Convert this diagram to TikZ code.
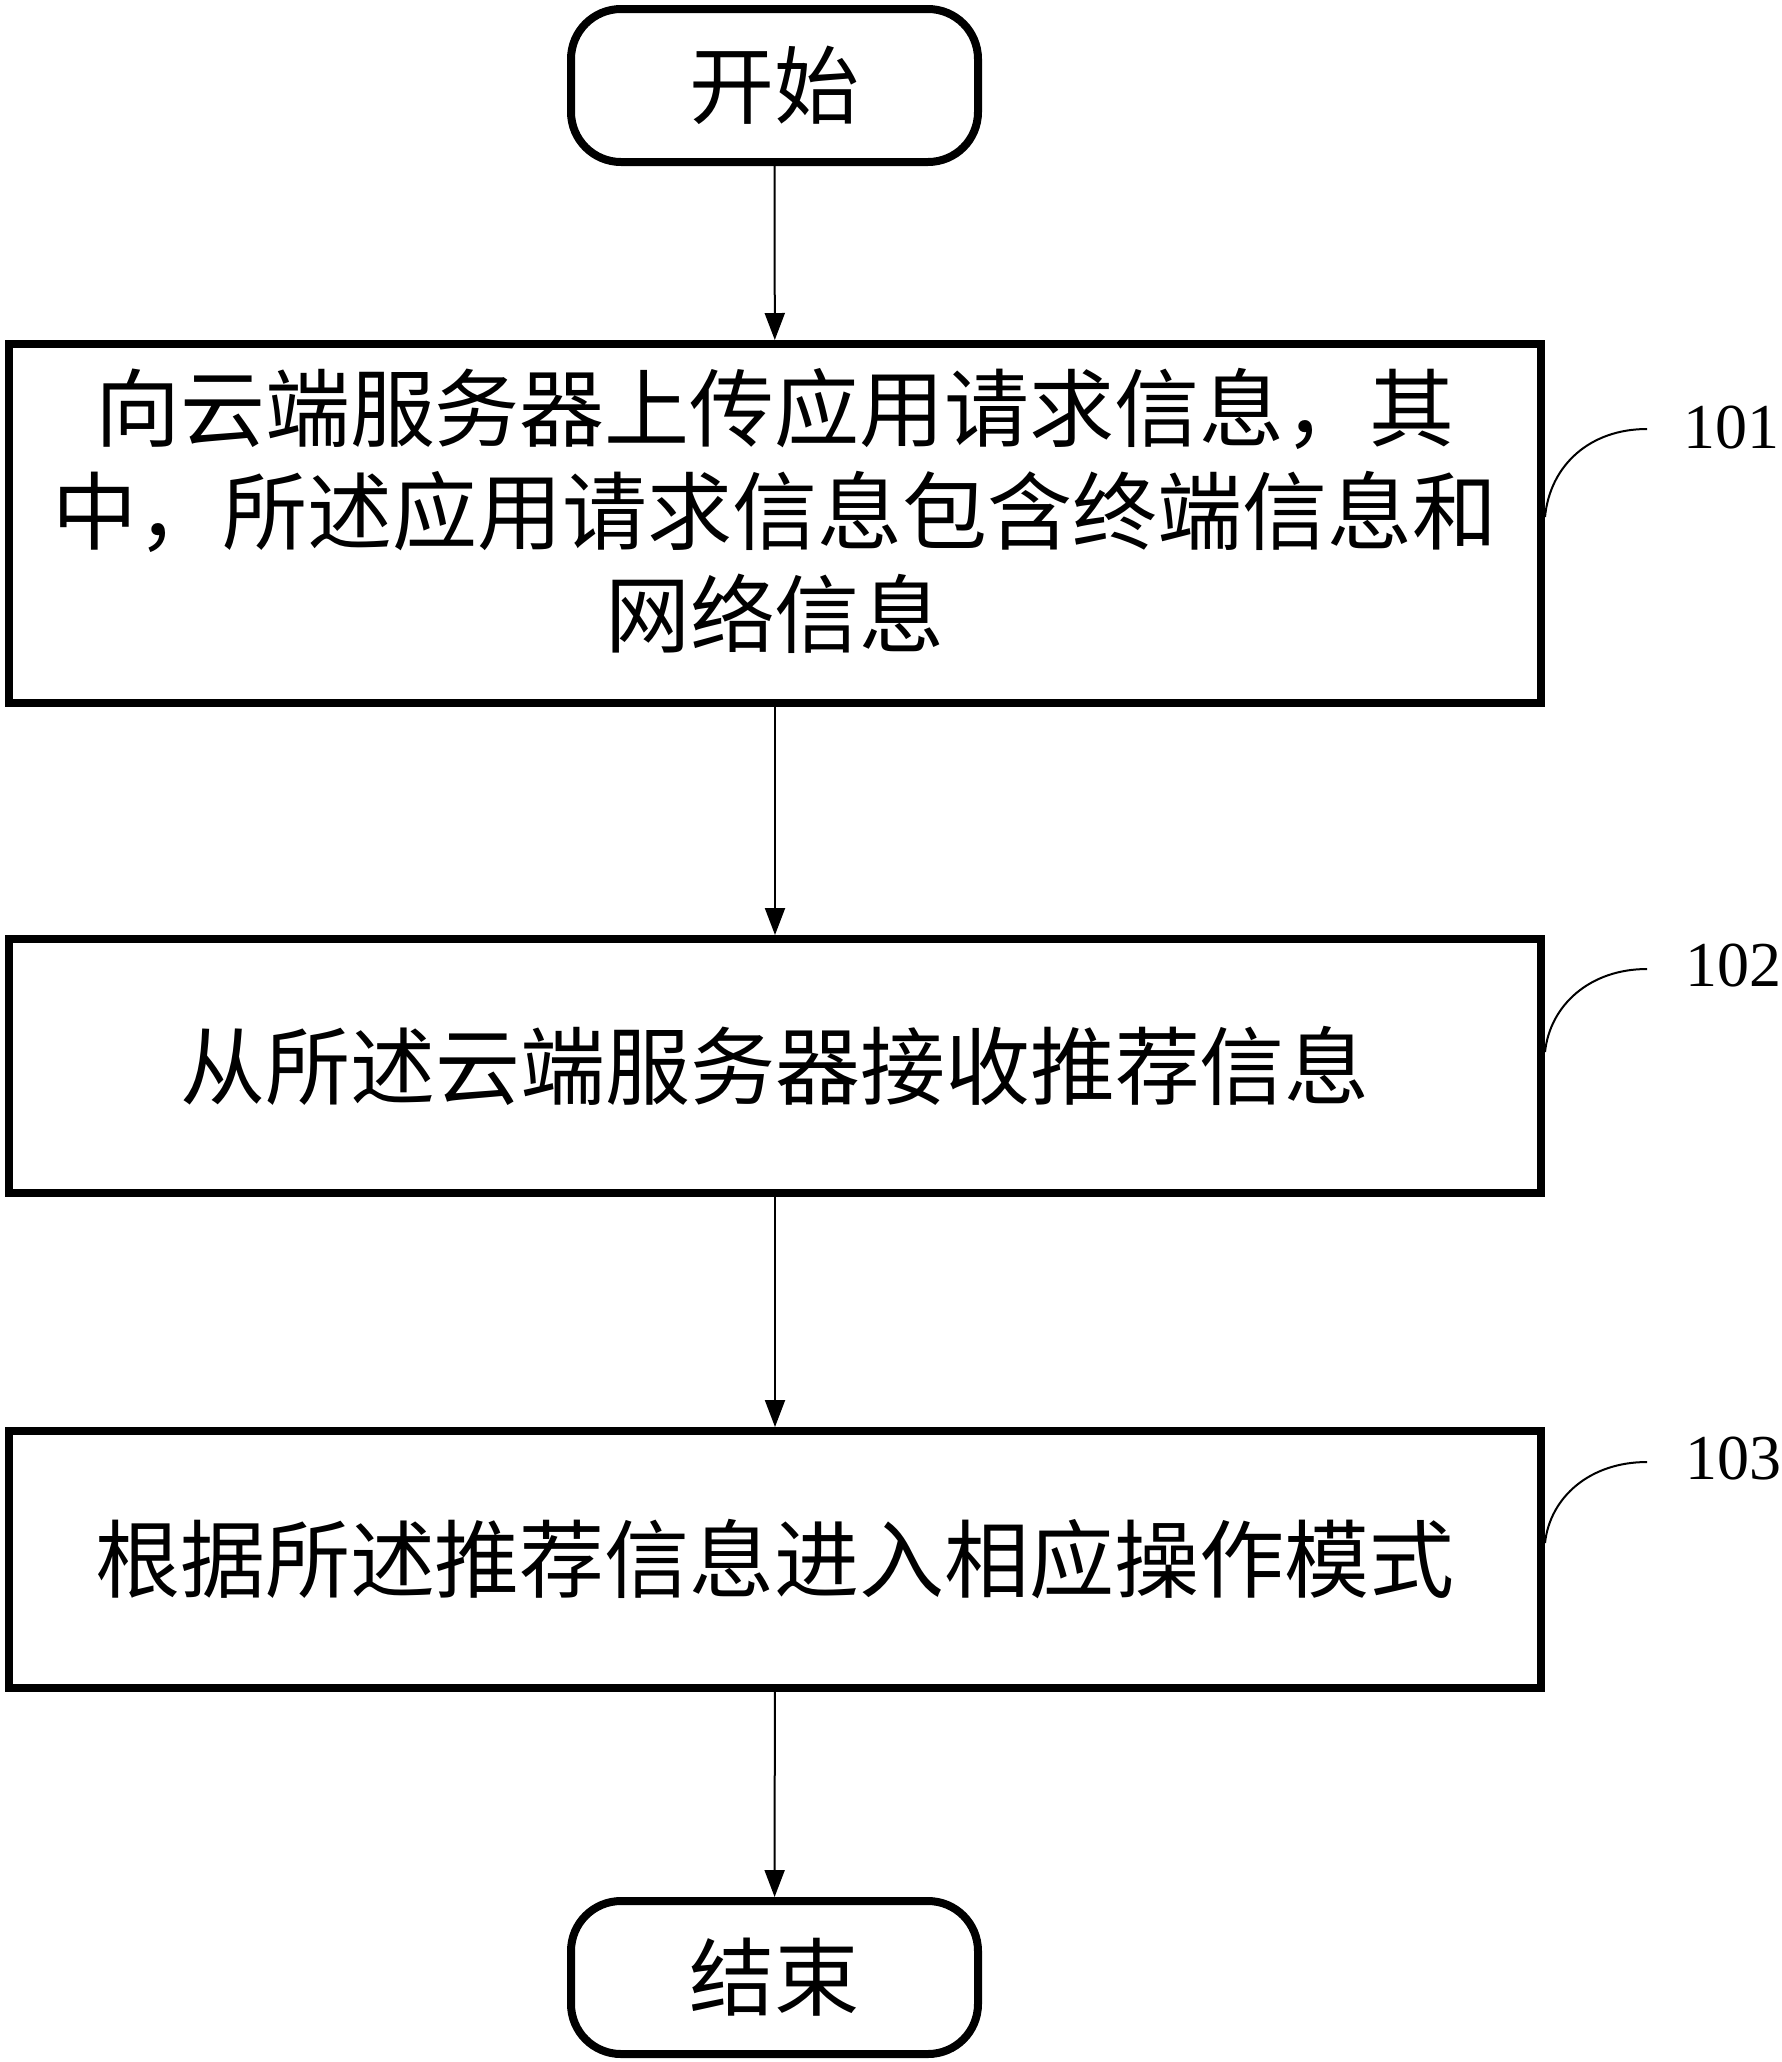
\documentclass[tikz,border=0pt]{standalone}
\usepackage{fontspec}
\newfontfamily\cjk{Noto Sans CJK SC}
\setmainfont{Liberation Serif}
\usetikzlibrary{arrows.meta}
\begin{document}
\begin{tikzpicture}[x=1pt,y=-1pt,
  term/.style={draw,line width=8pt,rounded corners=50pt,minimum width=407pt,minimum height=153pt,inner sep=0pt,font=\cjk\fontsize{85}{103}\selectfont},
  stepbox/.style={draw,line width=8pt,minimum width=1532pt,inner sep=0pt,align=center,font=\cjk\fontsize{85}{103}\selectfont},
  txt/.style={inner sep=0pt,align=center,font=\cjk\fontsize{85}{103}\selectfont},
  conn/.style={line width=2pt,-{Triangle[length=27pt,width=20pt]}},
  lab/.style={inner sep=0pt,font=\fontsize{64}{64}\selectfont},
  lead/.style={line width=2pt}]
\useasboundingbox (0,0) rectangle (1781,2062);
\node[term] (s) at (774.5,85.5) {开始};
\node[stepbox,minimum height=359pt,label={[txt,yshift=13pt]center:向云端服务器上传应用请求信息，其\\中，所述应用请求信息包含终端信息和\\网络信息}] (b1) at (775,523.5) {};
\node[stepbox,minimum height=254pt] (b2) at (775,1066) {从所述云端服务器接收推荐信息};
\node[stepbox,minimum height=257pt] (b3) at (775,1559.5) {根据所述推荐信息进入相应操作模式};
\node[term] (e) at (774.5,1977.5) {结束};
\draw[conn] (s) -- (b1);
\draw[conn] (b1) -- (b2);
\draw[conn] (b2) -- (b3);
\draw[conn] (b3) -- (e);
\node[lab] (l1) at (1731,428) {101};
\node[lab] (l2) at (1733,966) {102};
\node[lab] (l3) at (1733,1459) {103};
\coordinate (t1) at (1647,429);
\coordinate (t2) at (1647,969);
\coordinate (t3) at (1647,1462);
\coordinate (e1) at (1545,517);
\coordinate (e2) at (1545,1052);
\coordinate (e3) at (1545,1543);
\draw[lead] (t1) .. controls (1590,429) and (1550,465) .. (e1);
\draw[lead] (t2) .. controls (1590,969) and (1550,1005) .. (e2);
\draw[lead] (t3) .. controls (1590,1462) and (1550,1497) .. (e3);
\end{tikzpicture}
\end{document}
